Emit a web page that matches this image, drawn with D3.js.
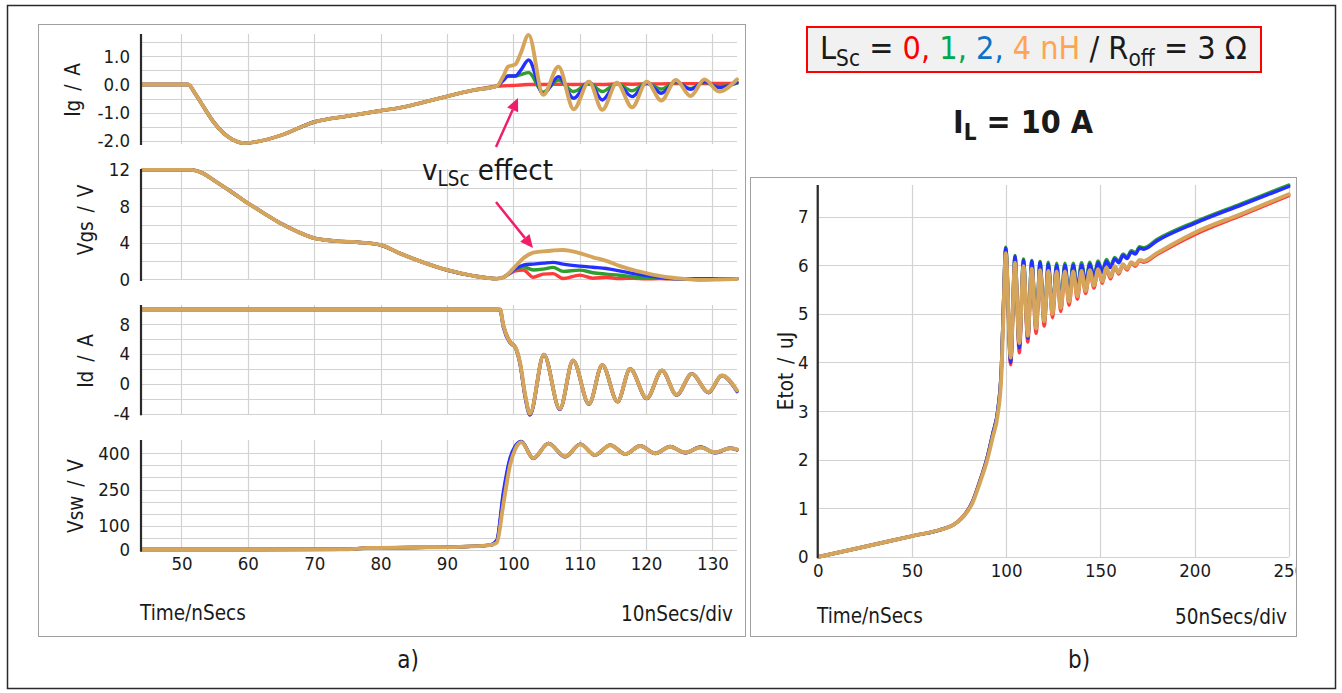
<!DOCTYPE html>
<html><head><meta charset="utf-8">
<script src="https://cdn.jsdelivr.net/npm/d3@7"></script>
<style>
body{margin:0;background:#fff;}
svg text{font-family:"DejaVu Sans Condensed","DejaVu Sans",sans-serif;font-stretch:condensed;fill:#1a1a1a;white-space:pre;}
</style></head><body>
<svg id="chart" width="1342" height="693"></svg>
<script>
// ---------------- DATA ----------------
const seriesNames = ["0 nH", "1 nH", "2 nH", "4 nH"];
const seriesColors = ["#ff3b3b", "#2e9e2e", "#2430ff", "#d6a55c"];

const timeTicksLeft = [50, 60, 70, 80, 90, 100, 110, 120, 130];
const timeTicksRight = [0, 50, 100, 150, 200, 250];

const igTicks = [-2, -1, 0, 1];
const igGrid = [-2, -1.5, -1, -0.5, 0, 0.5, 1, 1.5];
const vgsTicks = [0, 4, 8, 12];
const vgsGrid = [0, 2, 4, 6, 8, 10, 12];
const idTicks = [-4, 0, 4, 8];
const idGrid = [-4, -2, 0, 2, 4, 6, 8, 10];
const vswTicks = [0, 100, 250, 400];
const vswGrid = [0, 50, 100, 150, 200, 250, 300, 350, 400];
const etotTicks = [0, 1, 2, 3, 4, 5, 6, 7];

// Ig / A
const igTime = [43.9, 51, 52, 53, 55, 57, 59.5, 62, 65, 70, 75, 80, 83, 87, 90, 94, 97.5, 98.5, 99.2, 100.3, 101.1, 102.3, 104.5, 106.8, 109.1, 111.4, 113.4, 115.6, 117.9, 120.1, 122.3, 124.5, 126.7, 128.8, 131, 133.7];
const igRed = [0, 0, -0.3, -0.67, -1.38, -1.85, -2.08, -2.0, -1.8, -1.33, -1.12, -0.93, -0.82, -0.6, -0.42, -0.2, -0.06, -0.05, -0.04, -0.03, -0.02, 0, 0, 0.01, 0, 0.01, 0, 0.02, 0.01, 0.02, 0.02, 0.03, 0.03, 0.03, 0.04, 0.04];
const igGreen = [0, 0, -0.3, -0.67, -1.38, -1.85, -2.08, -2.0, -1.8, -1.33, -1.12, -0.93, -0.82, -0.6, -0.42, -0.2, -0.06, 0.15, 0.3, 0.3, 0.35, 0.42, -0.27, 0.16, -0.25, 0.05, -0.25, 0.04, -0.22, 0.06, -0.16, 0.08, -0.14, 0.08, -0.08, 0.05];
const igBlue = [0, 0, -0.3, -0.67, -1.38, -1.85, -2.08, -2.0, -1.8, -1.33, -1.12, -0.93, -0.82, -0.6, -0.42, -0.2, -0.06, 0.15, 0.3, 0.3, 0.5, 0.87, -0.34, 0.28, -0.49, 0.1, -0.55, 0.04, -0.43, 0.06, -0.31, 0.1, -0.17, 0.1, -0.11, 0.08];
const igOrange = [0, 0, -0.3, -0.67, -1.38, -1.85, -2.08, -2.0, -1.8, -1.33, -1.12, -0.93, -0.82, -0.6, -0.42, -0.2, -0.06, 0.3, 0.63, 0.71, 1.1, 1.76, -0.37, 0.63, -0.88, 0.1, -0.9, 0.06, -0.81, 0.1, -0.57, 0.16, -0.41, 0.18, -0.25, 0.18];

// Vgs / V
const vgsTime = [43.9, 51.5, 53, 55, 57.5, 60, 62.5, 65, 67.5, 70, 73, 76.5, 80, 83, 86, 90, 94, 97.5, 98.5, 100.3, 101.5, 103, 104.5, 106, 107.5, 110, 112, 114, 116, 118, 120, 122, 124, 126, 128, 131, 133.7];
const vgsRed = [12, 12, 11.7, 10.8, 9.6, 8.35, 7.2, 6.1, 5.2, 4.5, 4.2, 4.05, 3.75, 2.8, 1.95, 1.0, 0.35, 0.05, 0.2, 0.9, 1.0, 0.2, 0.55, 0.6, 0.07, 0.44, 0.1, 0.2, 0.05, 0.1, 0.02, 0.05, 0.02, 0.03, 0.02, 0.05, 0.05];
const vgsGreen = [12, 12, 11.7, 10.8, 9.6, 8.35, 7.2, 6.1, 5.2, 4.5, 4.2, 4.05, 3.75, 2.8, 1.95, 1.0, 0.35, 0.05, 0.2, 1.1, 1.36, 1.0, 1.1, 1.29, 0.85, 0.99, 0.7, 0.55, 0.42, 0.25, 0.15, 0.1, 0.05, 0.03, 0.05, 0.03, 0.05];
const vgsBlue = [12, 12, 11.7, 10.8, 9.6, 8.35, 7.2, 6.1, 5.2, 4.5, 4.2, 4.05, 3.75, 2.8, 1.95, 1.0, 0.35, 0.05, 0.2, 1.15, 1.54, 1.65, 1.75, 1.84, 1.65, 1.43, 1.3, 1.17, 0.9, 0.62, 0.38, 0.2, 0.07, 0.03, 0.02, 0.03, 0.05];
const vgsOrange = [12, 12, 11.7, 10.8, 9.6, 8.35, 7.2, 6.1, 5.2, 4.5, 4.2, 4.05, 3.75, 2.8, 1.95, 1.0, 0.35, 0.05, 0.2, 1.4, 2.3, 2.9, 3.05, 3.15, 3.2, 2.85, 2.4, 2.0, 1.45, 1.0, 0.65, 0.35, 0.15, 0.02, -0.1, -0.05, 0.02];

// Id / A
const idTime = [43.9, 97.5, 98, 98.5, 99.5, 100.3, 101, 101.8, 102.5, 104.6, 107, 109, 111.4, 113.4, 115.7, 117.6, 120.1, 122.4, 124.6, 126.9, 129.4, 131.4, 133.7];
const idRed = [10, 10, 10, 7.9, 5.7, 4.95, 2.8, -1.7, -4.05, 3.9, -3.4, 3.1, -2.7, 2.5, -2.35, 2.0, -1.95, 1.75, -1.5, 1.3, -1.15, 1.1, -0.95];
const idGreen = [10, 10, 10, 7.8, 5.6, 4.9, 2.85, -1.65, -4.05, 3.92, -3.38, 3.15, -2.7, 2.55, -2.4, 2.02, -1.95, 1.8, -1.5, 1.35, -1.15, 1.12, -0.95];
const idBlue = [10, 10, 9.9, 7.6, 5.5, 4.85, 2.7, -1.9, -4.2, 3.95, -3.45, 3.15, -2.75, 2.55, -2.42, 2.0, -1.98, 1.8, -1.52, 1.35, -1.2, 1.1, -1.05];
const idOrange = [10, 10, 10, 7.84, 5.6, 4.92, 2.9, -1.57, -4.0, 3.9, -3.36, 3.13, -2.69, 2.55, -2.38, 2.0, -1.93, 1.79, -1.48, 1.34, -1.13, 1.12, -0.9];

// Vsw / V
const vswTime = [43.9, 60, 75, 78, 85, 92, 96.5, 97.5, 98.5, 99.5, 100.3, 101.2, 103, 105.3, 107.8, 110.1, 112.3, 114.6, 116.9, 119.1, 121.4, 123.6, 125.9, 128.2, 130.4, 132.7, 133.7];
const vswRed = [2, 2, 3, 8, 10, 13, 20, 36, 225, 372, 425, 448, 378, 441, 386, 438, 393, 434, 397, 430, 400, 427, 403, 425, 403, 421, 415];
const vswGreen = [2, 2, 3, 8, 10, 13, 20, 35, 220, 370, 424, 448, 379, 441, 386, 438, 393, 434, 397, 430, 400, 427, 403, 425, 403, 421, 415];
const vswBlue = [2, 2, 3, 8, 10, 13, 20, 40, 240, 380, 430, 449, 380, 441, 385, 438, 392, 434, 396, 431, 399, 428, 402, 426, 402, 422, 414];
const vswOrange = [2, 2, 3, 8, 10, 13, 20, 30, 190, 350, 418, 446, 380, 440, 387, 437, 393, 433, 397, 430, 400, 427, 403, 424, 404, 421, 416];

// Etot / uJ
const etotTime = [0, 20, 50, 65, 72, 77, 82, 86, 90, 93, 95.5, 97.5, 98.5, 99.8, 102.4, 104.7, 107, 109.2, 111.5, 113.6, 115.9, 118, 120.2, 122.4, 124.6, 126.8, 129, 131.2, 133.4, 135.6, 137.8, 140, 142.2, 144.4, 146.6, 148.8, 151, 153.2, 155.4, 157.6, 159.8, 162, 164.2, 166.4, 168.6, 170.8, 173, 180, 200, 225, 250];
const etotRed = [0, 0.17, 0.43, 0.56, 0.66, 0.83, 1.13, 1.56, 2.06, 2.55, 3.0, 3.9, 5.05, 6.3, 3.95, 6.08, 4.2, 6.0, 4.42, 5.95, 4.6, 5.9, 4.75, 5.88, 4.92, 5.86, 5.05, 5.85, 5.18, 5.85, 5.3, 5.86, 5.42, 5.88, 5.53, 5.9, 5.63, 5.92, 5.72, 5.96, 5.82, 6.0, 5.9, 6.04, 5.98, 6.09, 6.06, 6.22, 6.63, 7.03, 7.43];
const etotGreen = [0, 0.17, 0.43, 0.56, 0.66, 0.82, 1.12, 1.55, 2.05, 2.55, 3.0, 3.9, 5.1, 6.37, 4.05, 6.2, 4.35, 6.13, 4.55, 6.1, 4.75, 6.08, 4.9, 6.06, 5.08, 6.04, 5.24, 6.04, 5.38, 6.04, 5.52, 6.05, 5.65, 6.06, 5.77, 6.09, 5.88, 6.12, 5.98, 6.16, 6.08, 6.23, 6.17, 6.3, 6.26, 6.38, 6.36, 6.53, 6.89, 7.27, 7.65];
const etotBlue = [0, 0.17, 0.43, 0.56, 0.66, 0.82, 1.12, 1.55, 2.05, 2.55, 3.0, 3.9, 5.1, 6.35, 4.0, 6.18, 4.3, 6.1, 4.5, 6.08, 4.7, 6.05, 4.85, 6.02, 5.05, 6.0, 5.2, 6.0, 5.35, 6.0, 5.48, 6.0, 5.62, 6.02, 5.74, 6.05, 5.85, 6.08, 5.95, 6.13, 6.05, 6.2, 6.14, 6.27, 6.23, 6.35, 6.33, 6.5, 6.86, 7.24, 7.62];
const etotOrange = [0, 0.17, 0.43, 0.56, 0.66, 0.82, 1.1, 1.52, 2.0, 2.48, 2.92, 3.75, 4.9, 6.25, 4.1, 6.05, 4.4, 5.98, 4.55, 5.93, 4.7, 5.9, 4.85, 5.88, 5.0, 5.87, 5.12, 5.87, 5.25, 5.87, 5.36, 5.88, 5.47, 5.9, 5.58, 5.92, 5.67, 5.95, 5.76, 5.98, 5.85, 6.02, 5.93, 6.06, 6.01, 6.11, 6.09, 6.25, 6.67, 7.06, 7.46];

// ---------------- DRAWING ----------------
const seriesWidths = [3.4, 3.4, 3.4, 3.9];
const svg = d3.select("#chart");

svg.append("rect").attr("x", 7.5).attr("y", 5.5).attr("width", 1328).attr("height", 683)
  .attr("fill", "#fff").attr("stroke", "#2a2a2a").attr("stroke-width", 1.5);
svg.append("rect").attr("x", 38.5).attr("y", 24.5).attr("width", 707).attr("height", 612)
  .attr("fill", "#fff").attr("stroke", "#a0a0a0");
svg.append("rect").attr("x", 750.5).attr("y", 177.5).attr("width", 546).attr("height", 459)
  .attr("fill", "#fff").attr("stroke", "#a0a0a0");

const defs = svg.append("defs");
const TICK_FS = 18.5, LABEL_FS = 20.5;

function drawPanel(cfg) {
  const g = svg.append("g");
  const x = cfg.x, y = cfg.y;
  const [x0, x1] = x.range();
  const [yb, yt] = y.range();
  g.selectAll(".vg").data(cfg.xGrid).join("line")
    .attr("x1", d => Math.round(x(d)) + 0.5).attr("x2", d => Math.round(x(d)) + 0.5)
    .attr("y1", yt).attr("y2", yb).attr("stroke", "#d2d2d2").attr("stroke-width", 1.2);
  g.selectAll(".hg").data(cfg.yGrid).join("line")
    .attr("x1", x0).attr("x2", x1)
    .attr("y1", d => Math.round(y(d)) + 0.5).attr("y2", d => Math.round(y(d)) + 0.5)
    .attr("stroke", "#d2d2d2").attr("stroke-width", 1.2);
  const cid = "clip-" + cfg.id;
  defs.append("clipPath").attr("id", cid).append("rect")
    .attr("x", x0).attr("y", yt - 3).attr("width", x1 - x0 + 2).attr("height", yb - yt + 6);
  const lg = g.append("g").attr("clip-path", `url(#${cid})`);
  cfg.series.forEach((vals, si) => {
    const line = d3.line()
      .x((d, i) => x(cfg.time[i]))
      .y(d => y(d))
      .curve(d3.curveMonotoneX);
    lg.append("path").attr("d", line(vals)).attr("fill", "none")
      .attr("stroke", seriesColors[si]).attr("stroke-width", seriesWidths[si])
      .attr("stroke-linejoin", "round").attr("stroke-linecap", "round")
      .attr("data-series", seriesNames[si]);
  });
  g.append("line").attr("x1", x0).attr("x2", x0).attr("y1", yt).attr("y2", yb + 1)
    .attr("stroke", "#2a2a2a").attr("stroke-width", 2.2);
  const yAxis = d3.axisLeft(y).tickValues(cfg.yTicks).tickFormat(cfg.fmt).tickSize(0).tickPadding(cfg.pad);
  const ya = g.append("g").attr("transform", `translate(${x0},0)`).call(yAxis);
  ya.select(".domain").remove();
  ya.selectAll("text").attr("font-size", TICK_FS).attr("font-family", null).style("fill", "#1a1a1a");
  g.append("text").attr("transform", `translate(${cfg.lx},${cfg.ly}) rotate(-90)`)
    .attr("text-anchor", "middle").attr("font-size", LABEL_FS).style("word-spacing", "3px")
    .text(cfg.label);
  if (cfg.xTicks) {
    const xAxis = d3.axisBottom(x).tickValues(cfg.xTicks).tickSize(0).tickPadding(0).tickFormat(d => String(d));
    const xa = g.append("g").attr("transform", `translate(0,${cfg.xTickY})`).call(xAxis);
    xa.select(".domain").remove();
    xa.selectAll("text").attr("font-size", TICK_FS).attr("font-family", null).attr("dy", 0).style("fill", "#1a1a1a");
  }
  return g;
}

const xL = d3.scaleLinear().domain([43.9, 133.7]).range([141, 737]);

drawPanel({id: "ig", x: xL, y: d3.scaleLinear().domain([-2.11, 1.79]).range([144, 34]),
  xGrid: timeTicksLeft, yGrid: igGrid, yTicks: igTicks, fmt: d => d.toFixed(1), pad: 11,
  time: igTime, series: [igRed, igGreen, igBlue, igOrange], label: "Ig / A", lx: 80, ly: 90});
drawPanel({id: "vgs", x: xL, y: d3.scaleLinear().domain([-0.1, 12.1]).range([280, 169]),
  xGrid: timeTicksLeft, yGrid: vgsGrid, yTicks: vgsTicks, fmt: d => String(d), pad: 11,
  time: vgsTime, series: [vgsRed, vgsGreen, vgsBlue, vgsOrange], label: "Vgs / V", lx: 93, ly: 220});
drawPanel({id: "id", x: xL, y: d3.scaleLinear().domain([-4.1, 10.6]).range([414.3, 305]),
  xGrid: timeTicksLeft, yGrid: idGrid, yTicks: idTicks, fmt: d => String(d), pad: 11,
  time: idTime, series: [idRed, idGreen, idBlue, idOrange], label: "Id / A", lx: 93, ly: 361});
drawPanel({id: "vsw", x: xL, y: d3.scaleLinear().domain([-3, 455]).range([550.7, 440]),
  xGrid: timeTicksLeft, yGrid: vswGrid, yTicks: vswTicks, fmt: d => String(d), pad: 11,
  time: vswTime, series: [vswRed, vswGreen, vswBlue, vswOrange], label: "Vsw / V", lx: 83, ly: 496,
  xTicks: timeTicksLeft, xTickY: 570});

defs.append("clipPath").attr("id", "clip-rbox").append("rect")
  .attr("x", 751).attr("y", 178).attr("width", 545).attr("height", 458);
const xR = d3.scaleLinear().domain([0, 250]).range([817.7, 1288.8]);
const rightG = drawPanel({id: "etot", x: xR, y: d3.scaleLinear().domain([0, 7.65]).range([557, 185]),
  xGrid: timeTicksRight, yGrid: etotTicks, yTicks: etotTicks, fmt: d => String(d), pad: 9,
  time: etotTime, series: [etotRed, etotGreen, etotBlue, etotOrange], label: "Etot / uJ", lx: 793, ly: 371,
  xTicks: timeTicksRight, xTickY: 577});
rightG.attr("clip-path", "url(#clip-rbox)");

svg.append("text").attr("x", 140).attr("y", 620).attr("font-size", LABEL_FS).text("Time/nSecs");
svg.append("text").attr("x", 733).attr("y", 621).attr("text-anchor", "end").attr("font-size", LABEL_FS).text("10nSecs/div");
svg.append("text").attr("x", 817).attr("y", 623).attr("font-size", LABEL_FS).text("Time/nSecs");
svg.append("text").attr("x", 1287).attr("y", 624).attr("text-anchor", "end").attr("font-size", LABEL_FS).text("50nSecs/div");

svg.append("text").attr("x", 408).attr("y", 668).attr("text-anchor", "middle").attr("font-size", 24).text("a)");
svg.append("text").attr("x", 1079).attr("y", 668).attr("text-anchor", "middle").attr("font-size", 24).text("b)");

function fit(sel, target) {
  const w = sel.node().getComputedTextLength();
  sel.attr("font-size", parseFloat(sel.attr("font-size")) * target / w);
}

svg.append("rect").attr("x", 807).attr("y", 27).attr("width", 454).attr("height", 45)
  .attr("fill", "#f1f1f1").attr("stroke", "#ff0000").attr("stroke-width", 2);
const leg = svg.append("text").attr("x", 820).attr("y", 59).attr("font-size", 26);
const legParts = [
  {t: "L"}, {t: "Sc", sub: true}, {t: " = "},
  {t: "0,", c: "#ff0000"}, {t: " "}, {t: "1,", c: "#00a84f"}, {t: " "},
  {t: "2,", c: "#0b72c6"}, {t: " "}, {t: "4 nH", c: "#ffa552"}, {t: " / R"},
  {t: "off", sub: true}, {t: " = 3 Ω"}
];
function addParts(textSel, parts) {
  let inSub = false;
  parts.forEach(p => {
    const ts = textSel.append("tspan").text(p.t);
    if (p.c) ts.style("fill", p.c);
    if (p.sub) { ts.attr("font-size", "70%").attr("dy", "0.3em"); inSub = true; }
    else if (inSub) { ts.attr("dy", "-0.21em"); inSub = false; }
  });
}
addParts(leg, legParts);
fit(leg, 427);

const il = svg.append("text").attr("x", 1023).attr("y", 133).attr("text-anchor", "middle")
  .attr("font-size", 26).attr("font-weight", "bold");
addParts(il, [{t: "I"}, {t: "L", sub: true}, {t: " = 10 A"}]);
fit(il, 140);

const ann = svg.append("text").attr("x", 422).attr("y", 180).attr("font-size", 26);
addParts(ann, [{t: "v"}, {t: "LSc", sub: true}, {t: " effect"}]);
fit(ann, 131);

function arrow(x1, y1, x2, y2) {
  const a = Math.atan2(y2 - y1, x2 - x1), L = 13, W = 6;
  const bx = x2 - L * Math.cos(a), by = y2 - L * Math.sin(a);
  svg.append("line").attr("x1", x1).attr("y1", y1).attr("x2", bx).attr("y2", by)
    .attr("stroke", "#f01e6a").attr("stroke-width", 2.5);
  svg.append("path").attr("d", `M${x2},${y2}L${bx - W * Math.sin(a)},${by + W * Math.cos(a)}L${bx + W * Math.sin(a)},${by - W * Math.cos(a)}Z`)
    .attr("fill", "#f01e6a");
}
arrow(496, 147, 518, 98);
arrow(496, 202, 533, 248);
</script>
</body></html>
